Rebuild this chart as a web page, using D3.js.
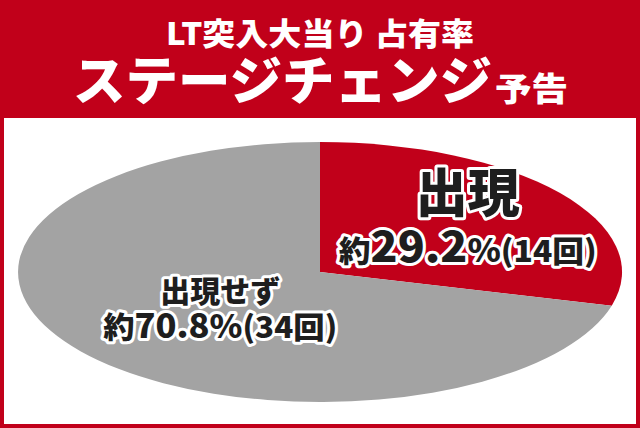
<!DOCTYPE html>
<html>
<head>
<meta charset="utf-8">
<script src="https://cdn.jsdelivr.net/npm/d3@7"></script>
<style>
  html, body { margin: 0; padding: 0; background: #fff; }
  text { font-family: "Noto Sans CJK JP", "Noto Sans", sans-serif; }
</style>
</head>
<body>
<svg id="chart" width="640" height="428"></svg>
<script>
// データ
const categories = ["出現", "出現せず"];
const counts = [14, 34];
const percents = ["29.2", "70.8"];
const titleLine1 = "LT突入大当り 占有率";
const titleMain = "ステージチェンジ";
const titleSub = "予告";

const RED = "#C1001A", GRAY = "#A3A3A3", INK = "#1E1E1E";

const svg = d3.select("#chart"),
      W = +svg.attr("width"),
      H = +svg.attr("height");

// 背景（赤枠 + 白パネル）
svg.append("rect").attr("width", W).attr("height", H).attr("fill", RED);
svg.append("rect")
   .attr("x", 4).attr("y", 118)
   .attr("width", W - 8).attr("height", 306)
   .attr("fill", "#fff");

// タイトル
svg.append("text")
   .attr("x", W / 2).attr("y", 45)
   .attr("text-anchor", "middle")
   .attr("textLength", 308).attr("lengthAdjust", "spacingAndGlyphs")
   .style("font-size", "31px").style("font-weight", 900)
   .attr("fill", "#fff")
   .text(titleLine1);

svg.append("text")
   .attr("x", 73).attr("y", 100)
   .attr("textLength", 419).attr("lengthAdjust", "spacingAndGlyphs")
   .style("font-size", "52px").style("font-weight", 900)
   .attr("fill", "#fff")
   .text(titleMain);

svg.append("text")
   .attr("x", 495).attr("y", 101)
   .attr("textLength", 73).attr("lengthAdjust", "spacingAndGlyphs")
   .style("font-size", "33px").style("font-weight", 900)
   .attr("fill", "#fff")
   .text(titleSub);

// 楕円の円グラフ（単位円を横長にスケール）
const cx = 320, cy = 272, rx = 302, ry = 130;

const pie = d3.pie().sort(null).value(d => d.count);
const arcs = pie(categories.map((c, i) => ({ name: c, count: counts[i], pct: percents[i] })));
const arc = d3.arc().innerRadius(0).outerRadius(1);
const color = d3.scaleOrdinal().domain(categories).range([RED, GRAY]);

const g = svg.append("g").attr("transform", `translate(${cx},${cy})`);

g.append("g")
 .attr("transform", `scale(${rx},${ry})`)
 .selectAll("path")
 .data(arcs)
 .enter().append("path")
   .attr("d", arc)
   .attr("fill", d => color(d.data.name));

// ラベル
const labelR = [0.6, 0.45];
const labelArc = d3.arc();
const big = [52, 30];      // 名前のサイズ
const numSize = [42, 33];  // 数字のサイズ
const smallSize = [30, 30];
const gap = [50, 36];
const lineW = [258, 234];  // 2行目の幅
const shift = [4, 8];

arcs.forEach((d, i) => {
  const c = labelArc.innerRadius(0).outerRadius(labelR[i] * 2).centroid(d);
  const x = c[0] * rx, y = c[1] * ry;
  const y0 = i === 0 ? -13 : -6;

  const lab = g.append("g")
    .attr("transform", `translate(${x + shift[i]},${y})`)
    .attr("fill", INK)
    .attr("stroke", "#fff")
    .attr("stroke-width", 6)
    .attr("stroke-linejoin", "round")
    .attr("paint-order", "stroke")
    .style("font-weight", 900)
    .attr("text-anchor", "middle");

  lab.append("text")
     .attr("y", y0)
     .style("font-size", big[i] + "px")
     .text(d.data.name);

  const t = lab.append("text")
     .attr("y", y0 + gap[i])
     .attr("textLength", lineW[i])
     .attr("lengthAdjust", "spacingAndGlyphs");
  t.append("tspan").style("font-size", smallSize[i] + "px").text("約");
  t.append("tspan").style("font-size", numSize[i] + "px").text(d.data.pct);
  t.append("tspan").style("font-size", (smallSize[i] + 2) + "px").text("%");
  t.append("tspan").style("font-size", smallSize[i] + "px").text(`(${d.data.count}回)`);
});
</script>
</body>
</html>
